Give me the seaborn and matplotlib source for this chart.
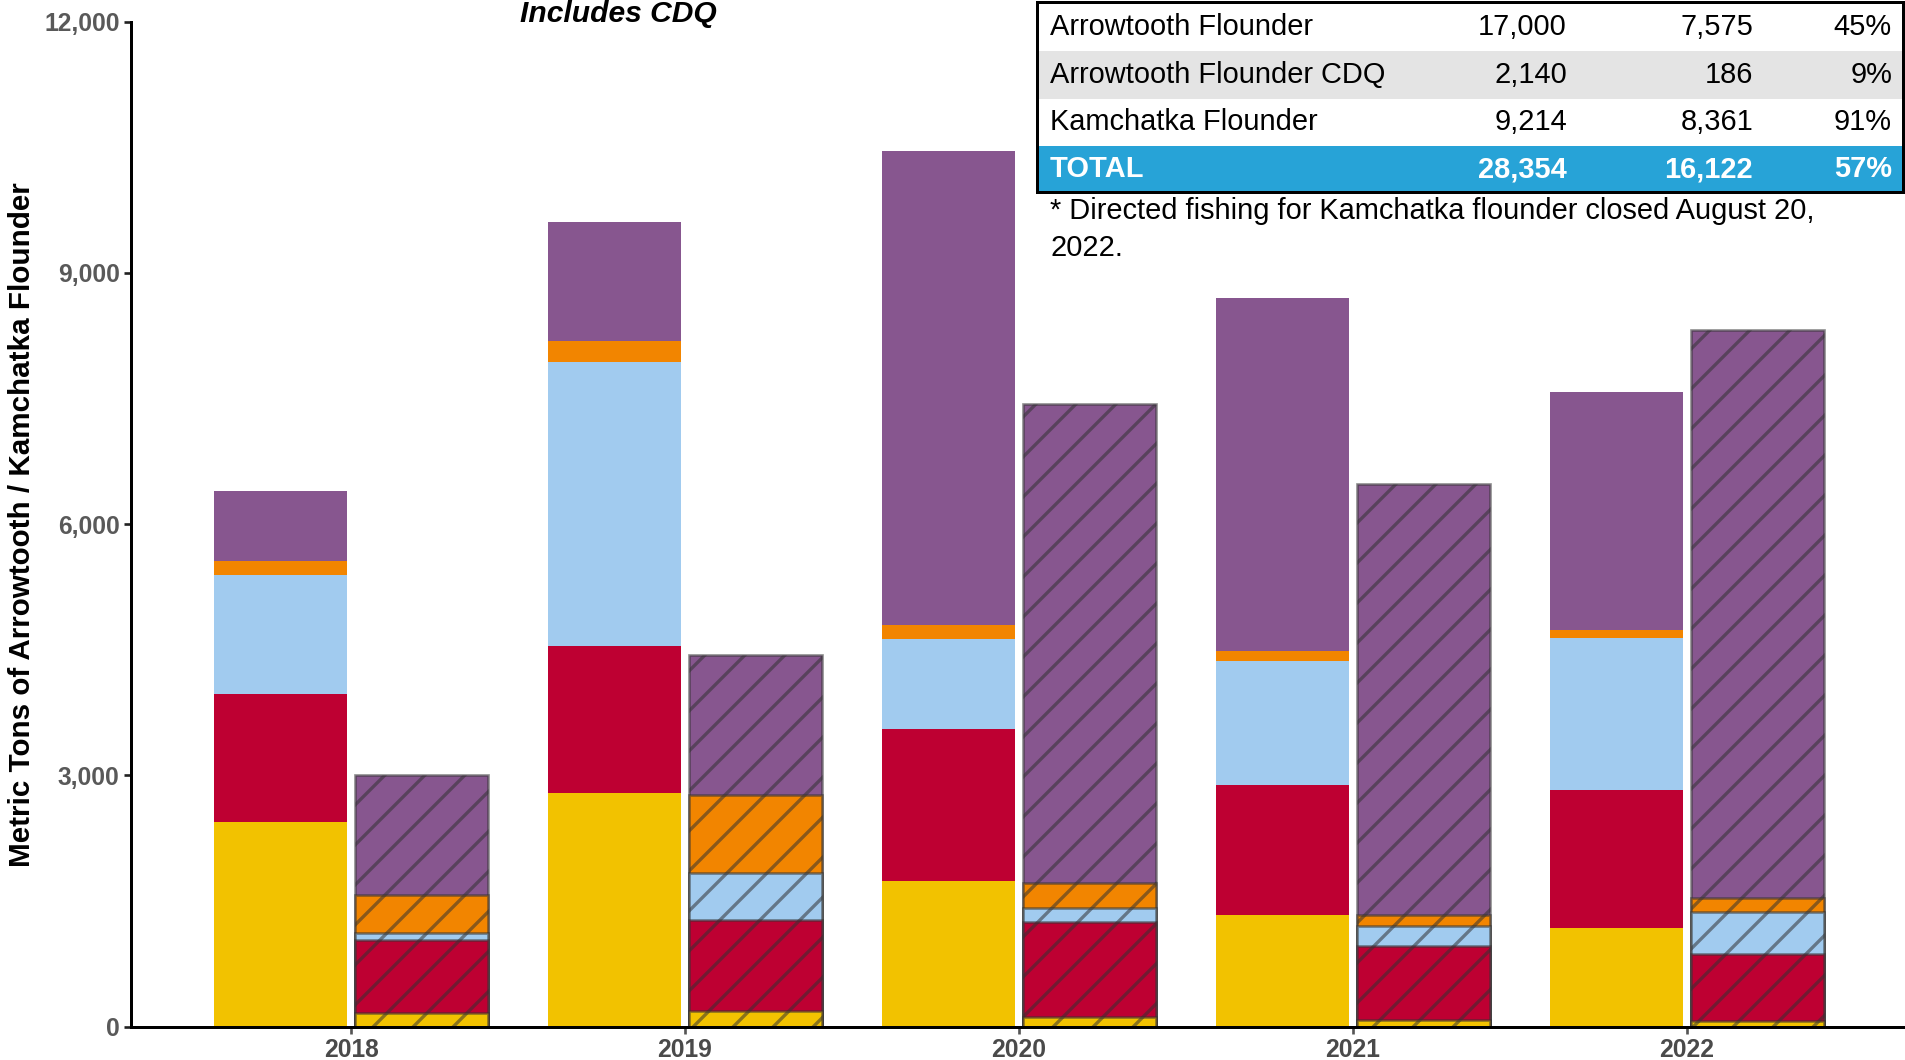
import numpy as np
import pandas as pd
import matplotlib
matplotlib.use("Agg")
import matplotlib.pyplot as plt
from matplotlib.patches import Rectangle
from matplotlib.ticker import FuncFormatter
import seaborn as sns

# ---------------- data ----------------
years = ["2018", "2019", "2020", "2021", "2022"]
species = ["Arrowtooth", "Kamchatka"]
segments = ["Sector 1", "Sector 2", "Sector 3", "Sector 4", "Sector 5"]
segment_colors = ["#F2C200", "#BE0032", "#A1CBEF", "#F28500", "#87568F"]

# catch (metric tons) by segment, bottom to top of each stack
arrowtooth_s1 = [2440, 2790, 1740, 1330, 1180]
arrowtooth_s2 = [1530, 1750, 1810, 1550, 1640]
arrowtooth_s3 = [1420, 3400, 1080, 1490, 1820]
arrowtooth_s4 = [170, 240, 160, 110, 100]
arrowtooth_s5 = [830, 1430, 5660, 4220, 2835]

kamchatka_s1 = [156, 185, 110, 75, 60]
kamchatka_s2 = [880, 1085, 1140, 885, 810]
kamchatka_s3 = [80, 560, 170, 240, 500]
kamchatka_s4 = [460, 930, 290, 130, 170]
kamchatka_s5 = [1430, 1670, 5720, 5150, 6780]

y_ticks = [0, 3000, 6000, 9000, 12000]

table_names = ["Arrowtooth Flounder", "Arrowtooth Flounder CDQ", "Kamchatka Flounder", "TOTAL"]
table_limit = ["17,000", "2,140", "9,214", "28,354"]
table_catch = ["7,575", "186", "8,361", "16,122"]
table_pct = ["45%", "9%", "91%", "57%"]

footnote_lines = ["* Directed fishing for Kamchatka flounder closed August 20,", "2022."]

# ---------------- style ----------------
W, H, DPI = 1905, 1060, 240
sns.set_theme(style="white")
plt.rcParams["font.family"] = ["Liberation Sans", "DejaVu Sans"]
plt.rcParams["hatch.linewidth"] = 1.0

fig = plt.figure(figsize=(W / DPI, H / DPI), dpi=DPI)
fig.patch.set_facecolor("white")


def fx(px):
    return px / W


def fy(py):
    return 1 - py / H


ax = fig.add_axes([fx(131), fy(1026.5), 1 - fx(131), fy(21.5) - fy(1026.5)])
ax.set_facecolor("white")

arrow_stack = np.array([arrowtooth_s1, arrowtooth_s2, arrowtooth_s3, arrowtooth_s4, arrowtooth_s5])
kam_stack = np.array([kamchatka_s1, kamchatka_s2, kamchatka_s3, kamchatka_s4, kamchatka_s5])
arrow_cum = np.cumsum(arrow_stack, axis=0)
kam_cum = np.cumsum(kam_stack, axis=0)

hatch_edge = (0.2, 0.2, 0.2, 0.55)

# draw cumulative tops from the highest layer down so each segment shows its slice
for k in reversed(range(len(segments))):
    df = pd.DataFrame({
        "year": years * 2,
        "species": [species[0]] * len(years) + [species[1]] * len(years),
        "top": list(arrow_cum[k]) + list(kam_cum[k]),
    })
    n0 = len(ax.patches)
    sns.barplot(
        data=df, x="year", y="top", hue="species", order=years, hue_order=species,
        palette={s: segment_colors[k] for s in species}, saturation=1,
        width=0.844, gap=0.052, dodge=True, errorbar=None, legend=False,
        linewidth=0, ax=ax,
    )
    for p in ax.patches[n0:]:
        cx = p.get_x() + p.get_width() / 2
        if cx - round(cx) > 0:
            p.set_hatch("//")
            p.set_edgecolor(hatch_edge)
            p.set_linewidth(0.8)

ax.set_xlabel("")
ax.set_ylabel("")
ax.set_xlim(-0.659, 4.653)
ax.set_ylim(0, 12000)
ax.set_yticks(y_ticks)
ax.yaxis.set_major_formatter(FuncFormatter(lambda v, _: f"{int(v):,}"))

for side in ["top", "right"]:
    ax.spines[side].set_visible(False)
for side in ["left", "bottom"]:
    ax.spines[side].set_color("black")
    ax.spines[side].set_linewidth(0.9)

ax.tick_params(axis="y", which="major", left=True, length=2.2, width=0.8, color="#222222",
               labelsize=7.4, labelcolor="#595959", pad=1.2)
ax.tick_params(axis="x", which="major", bottom=True, length=2.0, width=0.8, color="#555555",
               labelsize=7.4, labelcolor="#4a4a4a", pad=1.5)
for lab in ax.get_yticklabels() + ax.get_xticklabels():
    lab.set_fontweight("bold")

fig.text(fx(22), fy(525), "Metric Tons of Arrowtooth / Kamchatka Flounder", rotation=90,
         ha="center", va="center", fontsize=8.9, fontweight="bold", color="black")

fig.text(fx(618), fy(14), "Includes CDQ", ha="center", va="center", fontsize=9,
         fontweight="bold", fontstyle="italic", color="black")

# ---------------- summary table ----------------
row_edges = [2.4, 51, 98.5, 146, 192]
row_fill = ["white", "#E4E4E4", "white", "#27A3D7"]
x_left, x_right = 1037, 1903
for i in range(4):
    fig.add_artist(Rectangle((fx(x_left), fy(row_edges[i + 1])), fx(x_right) - fx(x_left),
                             fy(row_edges[i]) - fy(row_edges[i + 1]), transform=fig.transFigure,
                             facecolor=row_fill[i], edgecolor="none", zorder=5))
fig.add_artist(Rectangle((fx(x_left), fy(row_edges[-1])), fx(x_right) - fx(x_left),
                         fy(row_edges[0]) - fy(row_edges[-1]), transform=fig.transFigure,
                         facecolor="none", edgecolor="black", linewidth=0.9, zorder=6))

col_right = [1567, 1753, 1892]
for i in range(4):
    yc = fy((row_edges[i] + row_edges[i + 1]) / 2)
    total = table_names[i] == "TOTAL"
    kw = dict(fontsize=8.7, va="center", zorder=7,
              color="white" if total else "black",
              fontweight="bold" if total else "normal")
    fig.text(fx(1050), yc, table_names[i], ha="left", **kw)
    for xr, val in zip(col_right, [table_limit[i], table_catch[i], table_pct[i]]):
        fig.text(fx(xr), yc, val, ha="right", **kw)

for j, line in enumerate(footnote_lines):
    fig.text(fx(1050), fy(211 + 37 * j), line, ha="left", va="center", fontsize=8.7, color="black")

fig.savefig("out.png", dpi=DPI, facecolor="white")
